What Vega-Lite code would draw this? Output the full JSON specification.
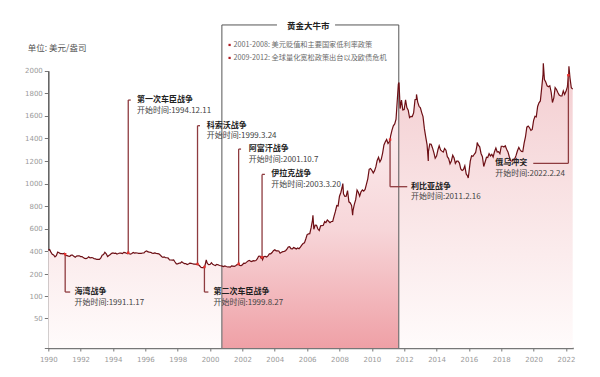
{
  "$schema": "https://vega.github.io/schema/vega-lite/v6.json",
  "autosize": {"type": "none"},
  "width": 525,
  "height": 328,
  "padding": {"left": 48.3, "top": 20, "right": 26.7, "bottom": 29},
  "background": "#ffffff",
  "config": {
    "font": "Noto Sans CJK SC",
    "view": {"stroke": null},
    "axis": {"labelOverlap": false, "labelFlush": false, "labelBound": false}
  },
  "resolve": {"axis": {"x": "independent", "y": "independent"}},
  "datasets": {
    "gold": [
      {"d":"1990-01","v":410},{"d":"1990-02","v":417},{"d":"1990-03","v":394},{"d":"1990-04","v":375},{"d":"1990-05","v":369},{"d":"1990-06","v":352},{"d":"1990-07","v":362},{"d":"1990-08","v":395},{"d":"1990-09","v":389},{"d":"1990-10","v":381},{"d":"1990-11","v":381},{"d":"1990-12","v":378},
      {"d":"1991-01","v":384},{"d":"1991-01-17","v":375},{"d":"1991-02","v":364},{"d":"1991-03","v":363},{"d":"1991-04","v":358},{"d":"1991-05","v":357},{"d":"1991-06","v":367},{"d":"1991-07","v":368},{"d":"1991-08","v":356},{"d":"1991-09","v":349},{"d":"1991-10","v":359},{"d":"1991-11","v":360},{"d":"1991-12","v":361},
      {"d":"1992-01","v":354},{"d":"1992-02","v":354},{"d":"1992-03","v":345},{"d":"1992-04","v":338},{"d":"1992-05","v":337},{"d":"1992-06","v":341},{"d":"1992-07","v":353},{"d":"1992-08","v":343},{"d":"1992-09","v":345},{"d":"1992-10","v":344},{"d":"1992-11","v":335},{"d":"1992-12","v":334},
      {"d":"1993-01","v":329},{"d":"1993-02","v":330},{"d":"1993-03","v":330},{"d":"1993-04","v":342},{"d":"1993-05","v":367},{"d":"1993-06","v":372},{"d":"1993-07","v":392},{"d":"1993-08","v":379},{"d":"1993-09","v":355},{"d":"1993-10","v":364},{"d":"1993-11","v":373},{"d":"1993-12","v":383},
      {"d":"1994-01","v":387},{"d":"1994-02","v":382},{"d":"1994-03","v":384},{"d":"1994-04","v":377},{"d":"1994-05","v":381},{"d":"1994-06","v":386},{"d":"1994-07","v":385},{"d":"1994-08","v":380},{"d":"1994-09","v":391},{"d":"1994-10","v":389},{"d":"1994-11","v":384},{"d":"1994-12","v":379},{"d":"1994-12-11","v":388},
      {"d":"1995-01","v":379},{"d":"1995-02","v":377},{"d":"1995-03","v":382},{"d":"1995-04","v":391},{"d":"1995-05","v":385},{"d":"1995-06","v":387},{"d":"1995-07","v":386},{"d":"1995-08","v":383},{"d":"1995-09","v":383},{"d":"1995-10","v":383},{"d":"1995-11","v":386},{"d":"1995-12","v":387},
      {"d":"1996-01","v":400},{"d":"1996-02","v":405},{"d":"1996-03","v":396},{"d":"1996-04","v":393},{"d":"1996-05","v":392},{"d":"1996-06","v":385},{"d":"1996-07","v":383},{"d":"1996-08","v":387},{"d":"1996-09","v":383},{"d":"1996-10","v":381},{"d":"1996-11","v":378},{"d":"1996-12","v":369},
      {"d":"1997-01","v":355},{"d":"1997-02","v":347},{"d":"1997-03","v":352},{"d":"1997-04","v":344},{"d":"1997-05","v":344},{"d":"1997-06","v":341},{"d":"1997-07","v":324},{"d":"1997-08","v":324},{"d":"1997-09","v":323},{"d":"1997-10","v":325},{"d":"1997-11","v":306},{"d":"1997-12","v":289},
      {"d":"1998-01","v":289},{"d":"1998-02","v":297},{"d":"1998-03","v":296},{"d":"1998-04","v":308},{"d":"1998-05","v":299},{"d":"1998-06","v":292},{"d":"1998-07","v":293},{"d":"1998-08","v":284},{"d":"1998-09","v":289},{"d":"1998-10","v":296},{"d":"1998-11","v":294},{"d":"1998-12","v":291},
      {"d":"1999-01","v":287},{"d":"1999-02","v":287},{"d":"1999-03","v":286},{"d":"1999-03-24","v":288},{"d":"1999-04","v":282},{"d":"1999-05","v":277},{"d":"1999-06","v":262},{"d":"1999-07","v":256},{"d":"1999-08","v":257},{"d":"1999-08-27","v":262},{"d":"1999-09","v":265},{"d":"1999-10","v":311},{"d":"1999-10-06","v":325},{"d":"1999-11","v":293},{"d":"1999-12","v":283},
      {"d":"2000-01","v":284},{"d":"2000-02","v":300},{"d":"2000-03","v":286},{"d":"2000-04","v":280},{"d":"2000-05","v":275},{"d":"2000-06","v":285},{"d":"2000-07","v":282},{"d":"2000-08","v":275},{"d":"2000-09","v":273},{"d":"2000-10","v":270},{"d":"2000-11","v":266},{"d":"2000-12","v":272},
      {"d":"2001-01","v":266},{"d":"2001-02","v":262},{"d":"2001-03","v":263},{"d":"2001-04","v":261},{"d":"2001-05","v":272},{"d":"2001-06","v":270},{"d":"2001-07","v":268},{"d":"2001-08","v":273},{"d":"2001-09","v":283},{"d":"2001-10","v":283},{"d":"2001-10-07","v":290},{"d":"2001-11","v":276},{"d":"2001-12","v":275},
      {"d":"2002-01","v":282},{"d":"2002-02","v":296},{"d":"2002-03","v":294},{"d":"2002-04","v":303},{"d":"2002-05","v":314},{"d":"2002-06","v":321},{"d":"2002-07","v":314},{"d":"2002-08","v":310},{"d":"2002-09","v":319},{"d":"2002-10","v":317},{"d":"2002-11","v":319},{"d":"2002-12","v":333},
      {"d":"2003-01","v":357},{"d":"2003-02","v":359},{"d":"2003-03","v":340},{"d":"2003-03-20","v":348},{"d":"2003-04","v":328},{"d":"2003-05","v":355},{"d":"2003-06","v":356},{"d":"2003-07","v":351},{"d":"2003-08","v":360},{"d":"2003-09","v":379},{"d":"2003-10","v":379},{"d":"2003-11","v":390},{"d":"2003-12","v":407},
      {"d":"2004-01","v":414},{"d":"2004-02","v":405},{"d":"2004-03","v":406},{"d":"2004-04","v":404},{"d":"2004-05","v":384},{"d":"2004-06","v":392},{"d":"2004-07","v":398},{"d":"2004-08","v":400},{"d":"2004-09","v":406},{"d":"2004-10","v":420},{"d":"2004-11","v":439},{"d":"2004-12","v":442},
      {"d":"2005-01","v":424},{"d":"2005-02","v":423},{"d":"2005-03","v":434},{"d":"2005-04","v":429},{"d":"2005-05","v":422},{"d":"2005-06","v":430},{"d":"2005-07","v":424},{"d":"2005-08","v":438},{"d":"2005-09","v":456},{"d":"2005-10","v":470},{"d":"2005-11","v":476},{"d":"2005-12","v":510},
      {"d":"2006-01","v":549},{"d":"2006-02","v":555},{"d":"2006-03","v":557},{"d":"2006-04","v":610},{"d":"2006-05","v":676},{"d":"2006-05-12","v":720},{"d":"2006-06","v":596},{"d":"2006-07","v":633},{"d":"2006-08","v":632},{"d":"2006-09","v":598},{"d":"2006-10","v":585},{"d":"2006-11","v":627},{"d":"2006-12","v":629},
      {"d":"2007-01","v":631},{"d":"2007-02","v":665},{"d":"2007-03","v":655},{"d":"2007-04","v":679},{"d":"2007-05","v":667},{"d":"2007-06","v":655},{"d":"2007-07","v":665},{"d":"2007-08","v":665},{"d":"2007-09","v":712},{"d":"2007-10","v":754},{"d":"2007-11","v":806},{"d":"2007-12","v":803},
      {"d":"2008-01","v":889},{"d":"2008-02","v":922},{"d":"2008-03","v":968},{"d":"2008-03-17","v":1000},{"d":"2008-04","v":909},{"d":"2008-05","v":888},{"d":"2008-06","v":889},{"d":"2008-07","v":939},{"d":"2008-08","v":839},{"d":"2008-09","v":829},{"d":"2008-10","v":806},{"d":"2008-10-24","v":720},{"d":"2008-11","v":760},{"d":"2008-12","v":816},
      {"d":"2009-01","v":858},{"d":"2009-02","v":943},{"d":"2009-03","v":924},{"d":"2009-04","v":890},{"d":"2009-05","v":928},{"d":"2009-06","v":945},{"d":"2009-07","v":934},{"d":"2009-08","v":949},{"d":"2009-09","v":996},{"d":"2009-10","v":1043},{"d":"2009-11","v":1127},{"d":"2009-12","v":1134},
      {"d":"2010-01","v":1118},{"d":"2010-02","v":1095},{"d":"2010-03","v":1113},{"d":"2010-04","v":1148},{"d":"2010-05","v":1205},{"d":"2010-06","v":1233},{"d":"2010-07","v":1193},{"d":"2010-08","v":1215},{"d":"2010-09","v":1271},{"d":"2010-10","v":1343},{"d":"2010-11","v":1370},{"d":"2010-12","v":1391},
      {"d":"2011-01","v":1356},{"d":"2011-02","v":1372},{"d":"2011-02-16","v":1390},{"d":"2011-03","v":1424},{"d":"2011-04","v":1474},{"d":"2011-05","v":1512},{"d":"2011-06","v":1529},{"d":"2011-07","v":1572},{"d":"2011-08","v":1756},{"d":"2011-08-22","v":1880},{"d":"2011-09-06","v":1895},{"d":"2011-09-20","v":1772},{"d":"2011-10","v":1665},{"d":"2011-11","v":1739},{"d":"2011-12","v":1652},
      {"d":"2012-01","v":1656},{"d":"2012-02","v":1742},{"d":"2012-03","v":1673},{"d":"2012-04","v":1650},{"d":"2012-05","v":1585},{"d":"2012-06","v":1596},{"d":"2012-07","v":1594},{"d":"2012-08","v":1626},{"d":"2012-09","v":1744},{"d":"2012-10","v":1747},{"d":"2012-10-05","v":1790},{"d":"2012-11","v":1722},{"d":"2012-12","v":1685},
      {"d":"2013-01","v":1671},{"d":"2013-02","v":1627},{"d":"2013-03","v":1593},{"d":"2013-04","v":1487},{"d":"2013-05","v":1414},{"d":"2013-06","v":1343},{"d":"2013-06-28","v":1200},{"d":"2013-07","v":1286},{"d":"2013-08","v":1352},{"d":"2013-09","v":1349},{"d":"2013-10","v":1316},{"d":"2013-11","v":1275},{"d":"2013-12","v":1225},
      {"d":"2014-01","v":1244},{"d":"2014-02","v":1300},{"d":"2014-03","v":1336},{"d":"2014-04","v":1299},{"d":"2014-05","v":1288},{"d":"2014-06","v":1279},{"d":"2014-07","v":1311},{"d":"2014-08","v":1296},{"d":"2014-09","v":1239},{"d":"2014-10","v":1222},{"d":"2014-11","v":1176},{"d":"2014-12","v":1201},
      {"d":"2015-01","v":1251},{"d":"2015-02","v":1227},{"d":"2015-03","v":1179},{"d":"2015-04","v":1199},{"d":"2015-05","v":1199},{"d":"2015-06","v":1182},{"d":"2015-07","v":1131},{"d":"2015-08","v":1117},{"d":"2015-09","v":1125},{"d":"2015-10","v":1157},{"d":"2015-11","v":1086},{"d":"2015-12","v":1068},{"d":"2015-12-17","v":1050},
      {"d":"2016-01","v":1097},{"d":"2016-02","v":1200},{"d":"2016-03","v":1246},{"d":"2016-04","v":1242},{"d":"2016-05","v":1260},{"d":"2016-06","v":1276},{"d":"2016-07","v":1337},{"d":"2016-07-06","v":1365},{"d":"2016-08","v":1341},{"d":"2016-09","v":1326},{"d":"2016-10","v":1267},{"d":"2016-11","v":1238},{"d":"2016-12","v":1152},
      {"d":"2017-01","v":1192},{"d":"2017-02","v":1234},{"d":"2017-03","v":1231},{"d":"2017-04","v":1266},{"d":"2017-05","v":1246},{"d":"2017-06","v":1260},{"d":"2017-07","v":1236},{"d":"2017-08","v":1283},{"d":"2017-09","v":1315},{"d":"2017-10","v":1280},{"d":"2017-11","v":1283},{"d":"2017-12","v":1265},
      {"d":"2018-01","v":1331},{"d":"2018-02","v":1331},{"d":"2018-03","v":1325},{"d":"2018-04","v":1335},{"d":"2018-05","v":1304},{"d":"2018-06","v":1281},{"d":"2018-07","v":1238},{"d":"2018-08","v":1202},{"d":"2018-09","v":1199},{"d":"2018-10","v":1215},{"d":"2018-11","v":1220},{"d":"2018-12","v":1250},
      {"d":"2019-01","v":1291},{"d":"2019-02","v":1320},{"d":"2019-03","v":1300},{"d":"2019-04","v":1285},{"d":"2019-05","v":1284},{"d":"2019-06","v":1359},{"d":"2019-07","v":1413},{"d":"2019-08","v":1500},{"d":"2019-09","v":1510},{"d":"2019-10","v":1495},{"d":"2019-11","v":1471},{"d":"2019-12","v":1480},
      {"d":"2020-01","v":1560},{"d":"2020-02","v":1597},{"d":"2020-03","v":1592},{"d":"2020-04","v":1683},{"d":"2020-05","v":1715},{"d":"2020-06","v":1732},{"d":"2020-07","v":1846},{"d":"2020-08","v":1968},{"d":"2020-08-07","v":2065},{"d":"2020-09","v":1922},{"d":"2020-10","v":1900},{"d":"2020-11","v":1866},{"d":"2020-12","v":1858},
      {"d":"2021-01","v":1867},{"d":"2021-02","v":1808},{"d":"2021-03","v":1718},{"d":"2021-04","v":1760},{"d":"2021-05","v":1850},{"d":"2021-06","v":1834},{"d":"2021-07","v":1807},{"d":"2021-08","v":1785},{"d":"2021-09","v":1776},{"d":"2021-10","v":1777},{"d":"2021-11","v":1821},{"d":"2021-12","v":1790},
      {"d":"2022-01","v":1817},{"d":"2022-02","v":1856},{"d":"2022-02-24","v":1960},{"d":"2022-03","v":1948},{"d":"2022-03-08","v":2040},{"d":"2022-04","v":1937},{"d":"2022-05","v":1849},{"d":"2022-06","v":1837}
    ],
    "wars": [
      {"n":"海湾战争","t":"开始时间:1991.1.17","d":"1991-01-17","p":375,"ly":118,"lx":"1991-08-14","cx":"1991-05-10"},
      {"n":"第一次车臣战争","t":"开始时间:1994.12.11","d":"1994-12-11","p":388,"ly":1740,"lx":"1995-06-25","cx":"1995-02-05"},
      {"n":"科索沃战争","t":"开始时间:1999.3.24","d":"1999-03-24","p":288,"ly":1513,"lx":"1999-10-19","cx":"1999-05-19"},
      {"n":"第二次车臣战争","t":"开始时间:1999.8.27","d":"1999-08-27","p":262,"ly":118,"lx":"2000-03-18","cx":"1999-11-24"},
      {"n":"阿富汗战争","t":"开始时间:2001.10.7","d":"2001-10-07","p":290,"ly":1306,"lx":"2002-05-23","cx":"2001-12-01"},
      {"n":"伊拉克战争","t":"开始时间:2003.3.20","d":"2003-03-20","p":348,"ly":1082,"lx":"2003-10-12","cx":"2003-05-23"},
      {"n":"利比亚战争","t":"开始时间:2011.2.16","d":"2011-02-16","p":1390,"ly":973,"lx":"2012-06-01","cx":"2012-03-10"},
      {"n":"俄乌冲突","t":"开始时间:2022.2.24","d":"2022-02-24","p":1960,"ly":1180,"lx":"2017-08-17","cx":"2019-12-24"}
    ],
    "box": [
      {"d":"2000-09-24","d2":"2000-09-24","v":0,"v2":2405},
      {"d":"2011-09-01","d2":"2011-09-01","v":0,"v2":2405},
      {"d":"2000-09-24","d2":"2004-02-20","v":2405,"v2":2405},
      {"d":"2007-09-23","d2":"2011-09-01","v":2405,"v2":2405}
    ],
    "head": [
      {"d":"2006-01-26","v":2400,"t":"黄金大牛市"}
    ],
    "legend": [
      {"d":"2001-03-17","v":2228,"t":"2001-2008: 美元贬值和主要国家低利率政策"},
      {"d":"2001-03-17","v":2113,"t":"2009-2012: 全球量化宽松政策出台以及欧债危机"}
    ]
  },
  "layer": [
    {
      "data": {"name": "gold", "format": {"parse": {"d": "date"}}},
      "mark": {"type": "area", "color": {"gradient": "linear", "x1": 0, "y1": 0, "x2": 0, "y2": 1, "stops": [{"offset": 0, "color": "#f3cdd0"}, {"offset": 1, "color": "#fffbfb"}]}},
      "encoding": {
        "x": {"field": "d", "type": "temporal", "title": null,
          "scale": {"type": "utc", "domain": [{"year": 1990, "month": 1, "date": 1, "utc": true}, {"year": 2022, "month": 6, "date": 15, "utc": true}]},
          "axis": {"values": [{"year":1990,"utc":true},{"year":1992,"utc":true},{"year":1994,"utc":true},{"year":1996,"utc":true},{"year":1998,"utc":true},{"year":2000,"utc":true},{"year":2002,"utc":true},{"year":2004,"utc":true},{"year":2006,"utc":true},{"year":2008,"utc":true},{"year":2010,"utc":true},{"year":2012,"utc":true},{"year":2014,"utc":true},{"year":2016,"utc":true},{"year":2018,"utc":true},{"year":2020,"utc":true},{"year":2022,"utc":true}],
            "format": "%Y", "labelFontSize": 7, "labelColor": "#9a9a9a", "tickColor": "#777777", "tickSize": 3, "domainColor": "#777777", "domainWidth": 1.5, "labelPadding": 4, "grid": false, "labelFont": "DejaVu Sans", "labelOverlap": false, "labelFlush": false}},
        "y": {"field": "v", "type": "quantitative", "title": "单位: 美元/盎司",
          "scale": {"domain": [0, 50, 100, 200, 2000], "range": [328, 298, 276, 254, 50.7], "nice": false, "zero": false},
          "axis": {"values": [0, 50, 100, 200, 400, 600, 800, 1000, 1200, 1400, 1600, 1800, 2000], "labelExpr": "datum.value == 0 ? '' : datum.label", "format": "d",
            "labelFontSize": 7, "labelColor": "#9a9a9a", "tickColor": "#777777", "tickSize": 4, "domainColor": "#666666", "domainWidth": 1.6, "labelPadding": 2, "grid": false, "labelFont": "DejaVu Sans", "labelOverlap": false, "labelFlush": false,
            "titleAngle": 0, "titleAlign": "left", "titleBaseline": "middle", "titleX": -21, "titleY": 27, "titleFontSize": 8.5, "titleFontWeight": "normal", "titleColor": "#555555"}}
      }
    },
    {
      "data": {"name": "gold", "format": {"parse": {"d": "date"}}},
      "transform": [{"filter": {"field": "d", "range": [{"year": 2000, "month": 9, "date": 24, "utc": true}, {"year": 2011, "month": 9, "date": 1, "utc": true}]}}],
      "mark": {"type": "area", "color": {"gradient": "linear", "x1": 0, "y1": 0, "x2": 0, "y2": 1, "stops": [{"offset": 0, "color": "#fdf4f5"}, {"offset": 0.55, "color": "#f7d6d9"}, {"offset": 1, "color": "#efa0a6"}]}},
      "encoding": {
        "x": {"field": "d", "type": "temporal", "axis": null},
        "y": {"field": "v", "type": "quantitative", "axis": null}
      }
    },
    {
      "data": {"name": "box", "format": {"parse": {"d": "date", "d2": "date"}}},
      "mark": {"type": "rule", "color": "#555555", "strokeWidth": 1},
      "encoding": {
        "x": {"field": "d", "type": "temporal", "axis": null},
        "x2": {"field": "d2"},
        "y": {"field": "v", "type": "quantitative", "axis": null},
        "y2": {"field": "v2"}
      }
    },
    {
      "data": {"name": "gold", "format": {"parse": {"d": "date"}}},
      "mark": {"type": "line", "color": "#6d0f15", "strokeWidth": 1.2},
      "encoding": {
        "x": {"field": "d", "type": "temporal", "axis": null},
        "y": {"field": "v", "type": "quantitative", "axis": null}
      }
    },
    {
      "data": {"name": "head", "format": {"parse": {"d": "date"}}},
      "mark": {"type": "text", "fontSize": 8.5, "fontWeight": "bold", "color": "#222222", "align": "center", "baseline": "middle"},
      "encoding": {
        "x": {"field": "d", "type": "temporal", "axis": null},
        "y": {"field": "v", "type": "quantitative", "axis": null},
        "text": {"field": "t"}
      }
    },
    {
      "data": {"name": "legend", "format": {"parse": {"d": "date"}}},
      "mark": {"type": "point", "shape": "square", "filled": true, "size": 5, "color": "#b01c22", "opacity": 1},
      "encoding": {
        "x": {"field": "d", "type": "temporal", "axis": null},
        "y": {"field": "v", "type": "quantitative", "axis": null}
      }
    },
    {
      "data": {"name": "legend", "format": {"parse": {"d": "date"}}},
      "mark": {"type": "text", "fontSize": 7.2, "color": "#6a6a6a", "align": "left", "baseline": "middle", "dx": 4},
      "encoding": {
        "x": {"field": "d", "type": "temporal", "axis": null},
        "y": {"field": "v", "type": "quantitative", "axis": null},
        "text": {"field": "t"}
      }
    },
    {
      "data": {"name": "wars", "format": {"parse": {"d": "date", "lx": "date", "cx": "date"}}},
      "mark": {"type": "rule", "color": "#8e3b3f", "strokeWidth": 1.3},
      "encoding": {
        "x": {"field": "d", "type": "temporal", "axis": null},
        "y": {"field": "p", "type": "quantitative", "axis": null},
        "y2": {"field": "ly"}
      }
    },
    {
      "data": {"name": "wars", "format": {"parse": {"d": "date", "lx": "date", "cx": "date"}}},
      "mark": {"type": "rule", "color": "#8e3b3f", "strokeWidth": 1.3},
      "encoding": {
        "x": {"field": "d", "type": "temporal", "axis": null},
        "x2": {"field": "cx"},
        "y": {"field": "ly", "type": "quantitative", "axis": null}
      }
    },
    {
      "data": {"name": "wars", "format": {"parse": {"d": "date", "lx": "date", "cx": "date"}}},
      "mark": {"type": "point", "shape": "square", "filled": true, "size": 6, "color": "#e8302c", "opacity": 1},
      "encoding": {
        "x": {"field": "d", "type": "temporal", "axis": null},
        "y": {"field": "p", "type": "quantitative", "axis": null}
      }
    },
    {
      "data": {"name": "wars", "format": {"parse": {"d": "date", "lx": "date", "cx": "date"}}},
      "mark": {"type": "text", "fontSize": 8, "fontWeight": "bold", "color": "#222222", "align": "left", "baseline": "middle"},
      "encoding": {
        "x": {"field": "lx", "type": "temporal", "axis": null},
        "y": {"field": "ly", "type": "quantitative", "axis": null},
        "text": {"field": "n"}
      }
    },
    {
      "data": {"name": "wars", "format": {"parse": {"d": "date", "lx": "date", "cx": "date"}}},
      "mark": {"type": "text", "fontSize": 8, "color": "#444444", "align": "left", "baseline": "middle", "dy": 10.5},
      "encoding": {
        "x": {"field": "lx", "type": "temporal", "axis": null},
        "y": {"field": "ly", "type": "quantitative", "axis": null},
        "text": {"field": "t"}
      }
    }
  ]
}
